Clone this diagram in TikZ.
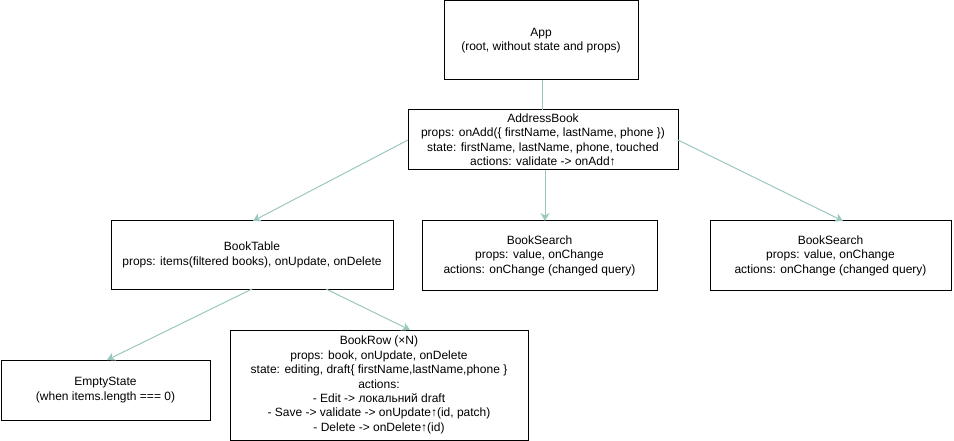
\documentclass[tikz,border=0pt]{standalone}
\usepackage{fontspec}
\setmainfont{Liberation Sans}
\usetikzlibrary{arrows.meta}
\definecolor{linkteal}{HTML}{9AC7BF}
\begin{document}
\begin{tikzpicture}[x=1pt,y=-1pt,
  comp/.style={draw=black,line width=1pt,fill=white,align=center,inner sep=0pt,
    font=\fontsize{12}{14.4}\selectfont},
  link/.style={draw=linkteal,line width=1pt},
  linkarrow/.style={link,-{Stealth[length=8pt,width=9pt,inset=2.5pt]}}]
\useasboundingbox (0,0) rectangle (954,441);

% component boxes, placed by their corners
\newcommand{\compbox}[6]{%
  \draw[comp] (#2,#3) rectangle (#4,#5);
  \node[comp,draw=none,fill=none] (#1) at ({(#2+#4)/2},{(#3+#5)/2}) {#6};
  \coordinate (#1-nw) at (#2,#3);
  \coordinate (#1-se) at (#4,#5);}

\compbox{app}{444}{1}{638}{80}{App\\(root, without state and props)}
\compbox{addr}{408}{110}{678}{170}{AddressBook\\props: onAdd(\{ firstName, lastName, phone \})\\state: firstName, lastName, phone, touched\\actions: validate -> onAdd↑}
\compbox{table}{111}{221}{393}{289}{BookTable\\props: items(filtered books), onUpdate, onDelete}
\compbox{searchA}{422}{221}{657}{290}{BookSearch\\props: value, onChange\\actions: onChange (changed query)}
\compbox{searchB}{710}{221}{951}{290}{BookSearch\\props: value, onChange\\actions: onChange (changed query)}
\compbox{empty}{1}{360}{210}{420}{EmptyState\\(when items.length === 0)}
\compbox{row}{230}{330}{528}{440}{BookRow (×N)\\props: book, onUpdate, onDelete\\state: editing, draft\{ firstName,lastName,phone \}\\actions:\\- Edit -> локальний draft\\- Save -> validate -> onUpdate↑(id, patch)\\- Delete -> onDelete↑(id)}

% connector anchor points on the box edges
\coordinate (appS) at (542,80);
\coordinate (addrN) at (542,110);
\coordinate (addrW) at (408,140);
\coordinate (addrE) at (678,140);
\coordinate (addrS) at (545,170);
\coordinate (tableN) at (253,221);
\coordinate (searchAN) at (545,221);
\coordinate (searchBN) at (843,221);
\coordinate (tableSW) at (252,289);
\coordinate (tableSE) at (326,289);
\coordinate (emptyN) at (107,360);
\coordinate (rowN) at (410,330);

\draw[link] (appS) -- (addrN);
\draw[linkarrow] (addrW) -- (tableN);
\draw[linkarrow] (addrS) -- (searchAN);
\draw[linkarrow] (addrE) -- (searchBN);
\draw[linkarrow] (tableSW) -- (emptyN);
\draw[linkarrow] (tableSE) -- (rowN);
\end{tikzpicture}
\end{document}
